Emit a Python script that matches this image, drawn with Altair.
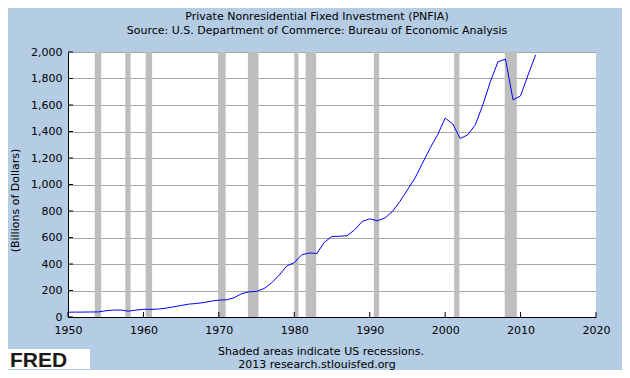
import altair as alt
import pandas as pd

# ---- data ----
years = list(range(1950, 2013))
values = [36, 37, 37, 38, 38, 47, 52, 53, 44, 52,
          58, 58, 60, 67, 77, 87, 97, 102, 109, 120,
          127, 130, 145, 175, 190, 193, 215, 258, 316, 385,
          410, 470, 483, 480, 565, 608, 609, 614, 658, 721,
          741, 726, 746, 796, 872, 960, 1048, 1161, 1274, 1375,
          1501, 1458, 1347, 1375, 1451, 1601, 1777, 1926, 1946, 1639,
          1669, 1828, 1979]

rec_start = [1953.55, 1957.6, 1960.3, 1969.9, 1973.85, 1980.0, 1981.5, 1990.55, 2001.2, 2007.9]
rec_end = [1954.4, 1958.3, 1961.15, 1970.9, 1975.25, 1980.55, 1982.9, 1991.25, 2001.9, 2009.5]

x_ticks = [1950, 1960, 1970, 1980, 1990, 2000, 2010, 2020]
y_ticks = [0, 200, 400, 600, 800, 1000, 1200, 1400, 1600, 1800, 2000]

footer1 = "Shaded areas indicate US recessions."
footer2 = "2013 research.stlouisfed.org"

FONT = "DejaVu Sans"
W, H = 528, 265

series = pd.DataFrame({"year": years, "value": values})
rec = pd.DataFrame({"start": rec_start, "end": rec_end})
xt = pd.DataFrame({"year": x_ticks})
yt = pd.DataFrame({"value": y_ticks})

xscale = alt.Scale(domain=[1950, 2020], nice=False, zero=False)
yscale = alt.Scale(domain=[0, 2000], nice=False)

xaxis = alt.Axis(values=x_ticks, format="d", grid=False, ticks=False, tickSize=0,
                 labelPadding=7, labelFont=FONT, labelFontSize=11, labelColor="black",
                 domainColor="black", domainWidth=1, title=None, labelFlush=False,
                 labelOverlap=False)
yaxis = alt.Axis(values=y_ticks, format=",.0f", grid=True, gridColor="#A6A6A6", gridWidth=1,
                 ticks=False, tickSize=0, labelPadding=6, labelFont=FONT, labelFontSize=11,
                 labelColor="black", domainColor="black", domainWidth=1, labelOverlap=False,
                 labelFlush=False,
                 title="(Billions of Dollars)", titleFont=FONT, titleFontSize=11,
                 titleFontWeight="normal", titleColor="black", titleX=-53, titleY=148,
                 titleAlign="center", titleBaseline="middle", titleAngle=-90)

bands = alt.Chart(rec).mark_rect(color="#BEBEBE").encode(
    x=alt.X("start:Q", scale=xscale, axis=xaxis),
    x2="end:Q",
    y=alt.value(0),
    y2=alt.value(H),
)

line = alt.Chart(series).mark_line(color="#0000FF", strokeWidth=1).encode(
    x=alt.X("year:Q", scale=xscale, axis=xaxis),
    y=alt.Y("value:Q", scale=yscale, axis=yaxis),
)

yticks = alt.Chart(yt).mark_rule(color="black", strokeWidth=1).encode(
    y=alt.Y("value:Q", scale=yscale, axis=yaxis),
    x=alt.value(0),
    x2=alt.value(5),
)

xticks = alt.Chart(xt).mark_rule(color="black", strokeWidth=1).encode(
    x=alt.X("year:Q", scale=xscale, axis=xaxis),
    y=alt.value(H - 5),
    y2=alt.value(H),
)

f1 = alt.Chart(pd.DataFrame({"t": [footer1]})).mark_text(
    font=FONT, fontSize=11, color="black", align="center", baseline="alphabetic"
).encode(text="t:N", x=alt.value(253), y=alt.value(303))

f2 = alt.Chart(pd.DataFrame({"t": [footer2]})).mark_text(
    font=FONT, fontSize=11, color="black", align="center", baseline="alphabetic"
).encode(text="t:N", x=alt.value(249), y=alt.value(316))

logo_box = alt.Chart(pd.DataFrame({"t": ["FRED"]})).mark_rect(color="white").encode(
    x=alt.value(-60), x2=alt.value(22), y=alt.value(297), y2=alt.value(317)
)
logo = alt.Chart(pd.DataFrame({"t": ["FRED"]})).mark_text(
    font="Liberation Sans", fontSize=21, fontWeight="bold", color="#1a1a1a",
    align="left", baseline="alphabetic"
).encode(text="t:N", x=alt.value(-58), y=alt.value(315))

chart = alt.layer(bands, line, yticks, xticks, f1, f2, logo_box, logo).properties(
    width=W,
    height=H,
    background="#B4CCE4",
    autosize=alt.AutoSizeParams(type="none"),
    padding={"left": 60, "top": 44, "right": 26, "bottom": 53},
    title=alt.TitleParams(
        text="Private Nonresidential Fixed Investment (PNFIA)",
        subtitle="Source: U.S. Department of Commerce: Bureau of Economic Analysis",
        font=FONT, fontSize=11, fontWeight="normal", color="black",
        subtitleFont=FONT, subtitleFontSize=11, subtitleColor="black",
        subtitlePadding=3, anchor="middle", dx=-15, offset=10,
    ),
).configure_view(fill="white", strokeWidth=0)

chart.save("out.html", embed_options={"renderer": "svg", "actions": False})
